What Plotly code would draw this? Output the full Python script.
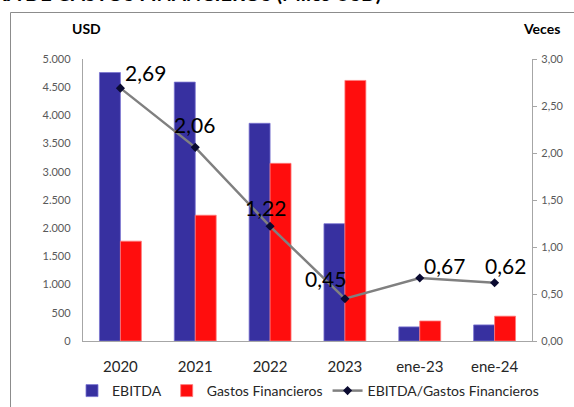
import plotly.graph_objects as go

categories = ["2020", "2021", "2022", "2023", "ene-23", "ene-24"]
ebitda = [4760, 4590, 3860, 2080, 250, 285]
gastos = [1770, 2230, 3150, 4620, 355, 440]
ratio = [2.69, 2.06, 1.22, 0.45, 0.67, 0.62]
left_ticks = [0, 500, 1000, 1500, 2000, 2500, 3000, 3500, 4000, 4500, 5000]
right_ticks = [0, 0.5, 1.0, 1.5, 2.0, 2.5, 3.0]

W, H = 574, 407
# plot area in page pixels
PX0, PX1, PY0, PY1 = 83, 532, 59, 341


def px(x):
    return (x - PX0) / (PX1 - PX0)


def py(y):
    return (PY1 - y) / (PY1 - PY0)


FONT = "Lato, 'Open Sans', sans-serif"

fig = go.Figure()
fig.add_trace(go.Bar(
    x=categories, y=ebitda, name="EBITDA",
    marker=dict(color="#3730A0", line=dict(color="#7A74D0", width=0.8)),
))
fig.add_trace(go.Bar(
    x=categories, y=gastos, name="Gastos Financieros",
    marker=dict(color="#FF0D0D", line=dict(color="#FF7A7A", width=0.8)),
))
fig.add_trace(go.Scatter(
    x=categories, y=ratio, name="EBITDA/Gastos Financieros", yaxis="y2",
    mode="lines+markers",
    line=dict(color="#808080", width=2.5),
    marker=dict(symbol="diamond", size=7, color="#0A0A30"),
))

# data label offsets (style only)
shifts = [(25, 16), (-1, 23), (-5, 19), (-19, 20), (25, 13), (11, 17)]
annotations = []
for i, (v, (dx, dy)) in enumerate(zip(ratio, shifts)):
    annotations.append(dict(
        x=i, y=v, xref="x", yref="y2", text=f"{v:.2f}".replace(".", ","),
        showarrow=False, xshift=dx, yshift=dy,
        font=dict(family=FONT, size=21, color="#000000"),
    ))

annotations += [
    dict(x=px(86.5), y=py(28), xref="paper", yref="paper", text="<b>USD</b>",
         xanchor="center", yanchor="middle",
         showarrow=False, font=dict(family=FONT, size=14, color="#000000")),
    dict(x=px(541), y=py(29), xref="paper", yref="paper", text="<b>Veces</b>",
         xanchor="center", yanchor="middle",
         showarrow=False, font=dict(family=FONT, size=14, color="#000000")),
    dict(x=px(383), y=py(-7), xref="paper", yref="paper", xanchor="right", yanchor="middle",
         text="<b>COBERTURA DE GASTOS FINANCIEROS (Miles USD)</b>",
         showarrow=False, font=dict(family=FONT, size=20, color="#000000")),
]

fig.update_layout(
    width=W, height=H,
    margin=dict(l=PX0, r=W - PX1, t=PY0, b=H - PY1, pad=0, autoexpand=False),
    paper_bgcolor="white", plot_bgcolor="white",
    separators=",.",
    barmode="group", bargap=0.44, bargroupgap=0,
    font=dict(family=FONT, color="#262626"),
    showlegend=True,
    legend=dict(orientation="h", x=px(72), y=py(391), xanchor="left", yanchor="middle",
                font=dict(family=FONT, size=14, color="#262626"),
                itemwidth=30, tracegroupgap=0, bgcolor="rgba(0,0,0,0)"),
    xaxis=dict(type="category", range=[-0.5, len(categories) - 0.5],
               showline=True, linecolor="#A6A6A6", linewidth=1.3, ticks="",
               showgrid=False, tickfont=dict(family=FONT, size=15, color="#262626"),
               ticklabelstandoff=12),
    yaxis=dict(range=[0, 5000], tickvals=left_ticks, tickformat=",d",
               showline=True, linecolor="#A6A6A6", linewidth=1.3, showgrid=False,
               zeroline=False, ticks="", ticklabelstandoff=9,
               tickfont=dict(family=FONT, size=11, color="#595959")),
    yaxis2=dict(range=[0, 3], tickvals=right_ticks, tickformat=".2f",
                overlaying="y", side="right", showline=True, linecolor="#A6A6A6",
                linewidth=1.3, showgrid=False, zeroline=False,
                ticks="outside", ticklen=4, tickcolor="#A6A6A6", ticklabelstandoff=2,
                tickfont=dict(family=FONT, size=11, color="#595959")),
    annotations=annotations,
    shapes=[dict(type="rect", xref="paper", yref="paper",
                 x0=px(10.5), x1=px(700), y0=py(12.5), y1=py(600),
                 line=dict(color="#8C8C8C", width=1), fillcolor="rgba(0,0,0,0)",
                 layer="below")],
)

fig.write_html(
    "out.html",
    config={"displayModeBar": False},
    post_script="document.body.style.margin='0px';document.body.style.overflow='hidden';",
)
